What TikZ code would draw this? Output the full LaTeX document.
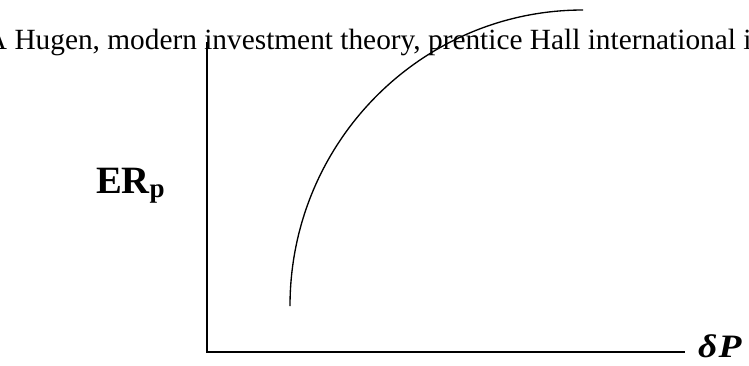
\documentclass[tikz,border=0pt]{standalone}
\usepackage{fontspec}
\setmainfont{Liberation Serif}
\usepackage{tikz}
\usetikzlibrary{calc, positioning}

\begin{document}
\begin{tikzpicture}[x=0.75pt, y=-0.75pt, line width=1.5pt]
    % 1. Khung hình (theo kích thước ảnh gốc)
    \useasboundingbox (0,0) rectangle (749,365);
    \clip (0,0) rectangle (749,365);

    % 2. Dòng tham khảo phía trên (bị cắt hai đầu)
    \node[anchor=base west, inner sep=0pt, font=\fontsize{22}{26}\selectfont] (ref) at (-15,49.5)
        {A Hugen, modern investment theory, prentice Hall international i};

    % 3. Trục tọa độ và nhãn
    \coordinate (ytop) at (207,42);
    \coordinate (O) at (207,352);
    \node[anchor=base west, inner sep=0pt, font=\fontsize{24.5}{28}\selectfont\bfseries\itshape] (dP) at (697,357)
        {\scalebox{1.15}[1]{δ\kern1pt P}};
    \draw (ytop) -- (O) -- ($(O -| dP.west)+(-12,0)$);
    \node[anchor=base west, inner sep=0pt, font=\fontsize{29}{32}\selectfont\bfseries] (ER) at (95,193)
        {ER\textsubscript{p}};

    % 4. Đường cong (bắt đầu thẳng đứng, kết thúc nằm ngang)
    \coordinate (A) at (290,306);
    \draw[line width=1pt] (A) arc[start angle=180, end angle=270, x radius=293, y radius=296];
\end{tikzpicture}
\end{document}
